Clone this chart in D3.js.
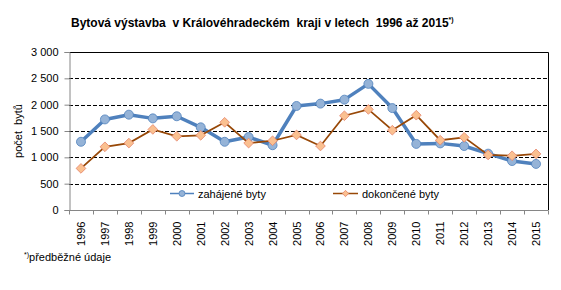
<!DOCTYPE html>
<html>
<head>
<meta charset="utf-8">
<script src="https://cdn.jsdelivr.net/npm/d3@7"></script>
<style>
  body { margin: 0; background: #fff; }
  svg { font-family: "Liberation Sans", Arial, sans-serif; }
</style>
</head>
<body>
<svg id="chart" width="561" height="290"></svg>
<script>
// roky a hodnoty
var years = ['1996','1997','1998','1999','2000','2001','2002','2003','2004','2005',
             '2006','2007','2008','2009','2010','2011','2012','2013','2014','2015'];
var zahajene = [1295, 1720, 1810, 1740, 1780, 1570, 1295, 1385, 1230, 1975,
                2020, 2095, 2395, 1935, 1255, 1265, 1215, 1070, 930, 875];
var dokoncene = [790, 1200, 1270, 1530, 1400, 1418, 1665, 1270, 1315, 1425,
                 1215, 1790, 1910, 1515, 1800, 1325, 1380, 1045, 1030, 1065];
var yTicks = [0, 500, 1000, 1500, 2000, 2500, 3000];

var svg = d3.select('#chart');
var pLeft = 69, pRight = 548, pTop = 52, pBottom = 210;

var x = d3.scaleBand().domain(years).range([pLeft, pRight]);
var y = d3.scaleLinear().domain([0, 3000]).range([pBottom, pTop]);
var fmt = function(d) { return d3.format(',')(d).replace(',', ' '); };

// title
var title = svg.append('text').attr('x', 71).attr('y', 27)
  .style('font-size', '12px').style('font-weight', 'bold').attr('fill', '#000')
  .attr('xml:space', 'preserve')
  .text('Bytová výstavba  v Královéhradeckém  kraji v letech  1996 až 2015');
title.append('tspan').attr('dy', -5).style('font-size', '7px').text('*)');

// gridlines
svg.append('g').selectAll('line').data(yTicks.filter(function(d) { return d > 0 && d < 3000; }))
  .enter().append('line')
  .attr('x1', pLeft).attr('x2', pRight)
  .attr('y1', function(d) { return Math.round(y(d)) + 0.5; })
  .attr('y2', function(d) { return Math.round(y(d)) + 0.5; })
  .attr('stroke', '#000').attr('stroke-dasharray', '4,2');

// plot border top + right
svg.append('path')
  .attr('d', 'M' + pLeft + ',' + (pTop + 0.5) + 'H' + (pRight + 0.5) + 'V' + pBottom)
  .attr('fill', 'none').attr('stroke', '#000');

// y axis
var yAxis = svg.append('g').attr('transform', 'translate(' + (pLeft + 0.5) + ',0)')
  .call(d3.axisLeft(y).tickValues(yTicks).tickFormat(fmt).tickSize(5).tickPadding(6));
yAxis.select('.domain').attr('stroke', '#868686');
yAxis.selectAll('.tick line').attr('stroke', '#868686');
yAxis.selectAll('text').style('font-size', '11px').attr('fill', '#000');
yAxis.attr('font-family', null);

// x axis
var xAxis = svg.append('g').attr('transform', 'translate(0,' + (pBottom + 0.5) + ')');
xAxis.append('line').attr('x1', pLeft).attr('x2', pRight + 0.5).attr('stroke', '#868686');
xAxis.selectAll('.tk').data(years.concat(['end'])).enter().append('line')
  .attr('x1', function(d, i) { return Math.round(pLeft + i * x.bandwidth()) + 0.5; })
  .attr('x2', function(d, i) { return Math.round(pLeft + i * x.bandwidth()) + 0.5; })
  .attr('y1', 0).attr('y2', 4).attr('stroke', '#868686');
xAxis.selectAll('.lbl').data(years).enter().append('text')
  .attr('transform', function(d) { return 'translate(' + (x(d) + x.bandwidth() / 2 + 4) + ',11) rotate(-90)'; })
  .attr('text-anchor', 'end').style('font-size', '11px').attr('fill', '#000')
  .text(function(d) { return d; });

// y label
svg.append('text').attr('transform', 'translate(22,131) rotate(-90)')
  .attr('text-anchor', 'middle').style('font-size', '11px').attr('fill', '#000')
  .attr('xml:space', 'preserve')
  .text('počet  bytů');

// lines
var line = d3.line().x(function(d, i) { return x(years[i]) + x.bandwidth() / 2; })
  .y(function(d) { return y(d); });

svg.append('path').datum(zahajene).attr('d', line)
  .attr('fill', 'none').attr('stroke', '#4F81BD').attr('stroke-width', 3.5)
  .attr('stroke-linejoin', 'round');
svg.append('g').selectAll('circle').data(zahajene).enter().append('circle')
  .attr('cx', function(d, i) { return x(years[i]) + x.bandwidth() / 2; })
  .attr('cy', function(d) { return y(d); })
  .attr('r', 4.5).attr('fill', '#95B3D7').attr('stroke', '#4F81BD').attr('stroke-width', 0.8);

svg.append('path').datum(dokoncene).attr('d', line)
  .attr('fill', 'none').attr('stroke', '#984807').attr('stroke-width', 1.75);
var diamond = d3.symbol().type(d3.symbolDiamond2).size(60);
svg.append('g').selectAll('path').data(dokoncene).enter().append('path')
  .attr('d', diamond)
  .attr('transform', function(d, i) { return 'translate(' + (x(years[i]) + x.bandwidth() / 2) + ',' + y(d) + ')'; })
  .attr('fill', '#FAC090').attr('stroke', '#E5836A').attr('stroke-width', 0.8);

// legend
var lg1 = svg.append('g');
lg1.append('line').attr('x1', 170).attr('x2', 194).attr('y1', 193.5).attr('y2', 193.5)
  .attr('stroke', '#4F81BD').attr('stroke-width', 1.5);
lg1.append('circle').attr('cx', 182).attr('cy', 193.5).attr('r', 3)
  .attr('fill', '#95B3D7').attr('stroke', '#4F81BD').attr('stroke-width', 0.8);
lg1.append('text').attr('x', 198).attr('y', 197.5).style('font-size', '11px').text('zahájené byty');

var lg2 = svg.append('g');
lg2.append('line').attr('x1', 333).attr('x2', 358).attr('y1', 193.5).attr('y2', 193.5)
  .attr('stroke', '#984807').attr('stroke-width', 1.5);
lg2.append('path').attr('d', d3.symbol().type(d3.symbolDiamond2).size(25))
  .attr('transform', 'translate(345.5,193.5)')
  .attr('fill', '#FAC090').attr('stroke', '#E5836A').attr('stroke-width', 0.8);
lg2.append('text').attr('x', 362).attr('y', 197.5).style('font-size', '11px').text('dokončené byty');

// footnote
var fn = svg.append('text').attr('x', 24).attr('y', 261).style('font-size', '11px');
fn.append('tspan').style('font-size', '7px').attr('dy', -4).text('*)');
fn.append('tspan').attr('dy', 4).text('předběžné údaje');
</script>
</body>
</html>
